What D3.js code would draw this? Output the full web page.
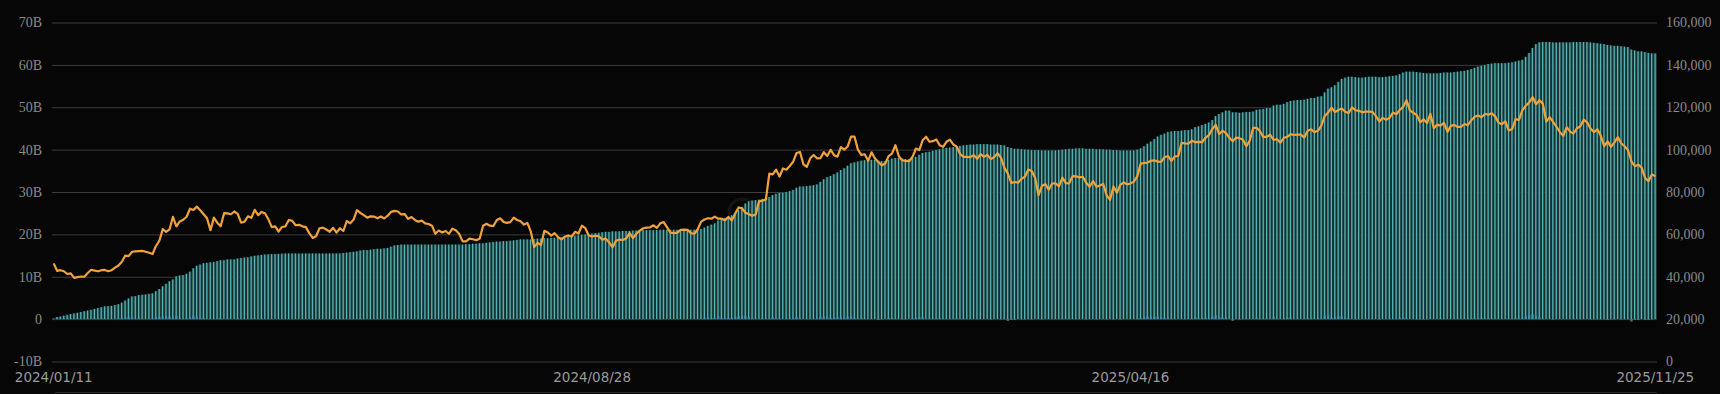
<!DOCTYPE html>
<html>
<head>
<meta charset="utf-8">
<script src="https://cdn.jsdelivr.net/npm/d3@7/dist/d3.min.js"></script>
<style>
  html, body { margin: 0; padding: 0; background: #060606; }
  svg { display: block; }
</style>
</head>
<body>
<svg id="chart" width="1720" height="394"></svg>
<script>
// US market holidays inside the range (no ETF data on these days)
const holidays = [
  "2024-01-15", "2024-02-19", "2024-03-29", "2024-05-27", "2024-06-19", "2024-07-04",
  "2024-09-02", "2024-11-28", "2024-12-25", "2025-01-01", "2025-01-09", "2025-01-20",
  "2025-02-17", "2025-04-18", "2025-05-26", "2025-06-19", "2025-07-04", "2025-09-01"
];

// Cumulative net inflow, billions USD, one value per trading day
const cumFlowB = [
  // 2024-01
  0.11, 0.50, 0.61, 0.82, 1.03, 1.19, 1.34, 1.50, 1.68, 1.85, 2.02, 2.22, 2.42, 2.62,
  // 2024-02
  2.82, 3.02, 3.07, 3.13, 3.33, 3.53, 3.90, 4.39, 4.88, 5.37, 5.42, 5.68, 5.76, 5.81, 5.97, 6.08, 6.60, 7.12, 7.73, 8.34,
  // 2024-03
  8.94, 9.36, 10.1, 10.3, 10.4, 10.7, 11.2, 12.0, 12.6, 12.9, 13.2, 13.3, 13.4, 13.5, 13.7, 13.9, 13.9, 14.1, 14.1, 14.1,
  // 2024-04
  14.3, 14.45, 14.55, 14.6, 14.8, 14.95, 15.05, 15.15, 15.25, 15.3, 15.35, 15.35, 15.4, 15.45, 15.5, 15.5, 15.5, 15.5, 15.5, 15.5, 15.5, 15.5,
  // 2024-05
  15.5, 15.5, 15.5, 15.5, 15.5, 15.5, 15.5, 15.5, 15.5, 15.6, 15.7, 15.8, 15.9, 16.0, 16.2, 16.3, 16.3, 16.4, 16.5, 16.6, 16.6, 16.7,
  // 2024-06
  16.8, 17.1, 17.4, 17.5, 17.6, 17.6, 17.6, 17.6, 17.6, 17.6, 17.6, 17.6, 17.6, 17.6, 17.6, 17.6, 17.6, 17.6, 17.6,
  // 2024-07
  17.6, 17.6, 17.6, 17.6, 17.7, 17.7, 17.8, 17.8, 17.9, 17.9, 18.0, 18.1, 18.2, 18.3, 18.3, 18.4, 18.4, 18.5, 18.6, 18.7, 18.8, 18.8,
  // 2024-08
  18.8, 18.8, 18.9, 19.0, 19.0, 19.1, 19.1, 19.2, 19.2, 19.3, 19.3, 19.4, 19.5, 19.6, 19.7, 19.8, 19.9, 20.0, 20.1, 20.2, 20.3, 20.4,
  // 2024-09
  20.5, 20.6, 20.6, 20.7, 20.7, 20.7, 20.8, 20.8, 20.8, 20.9, 20.9, 20.9, 21.0, 21.0, 21.0, 21.0, 21.0, 21.1, 21.1, 21.1,
  // 2024-10
  21.1, 21.1, 21.1, 21.1, 21.1, 21.1, 21.1, 21.1, 21.2, 21.3, 21.6, 22.0, 22.3, 22.6, 23.3, 23.6, 23.9, 24.2, 24.5, 25.0, 25.7, 26.5, 27.3,
  // 2024-11
  27.8, 28.0, 28.1, 28.2, 28.4, 28.6, 28.8, 29.3, 29.6, 29.8, 29.8, 30.0, 30.2, 30.5, 31.0, 31.3, 31.3, 31.4, 31.5, 31.6,
  // 2024-12
  31.8, 32.4, 33.0, 33.5, 33.8, 34.2, 34.6, 35.2, 35.6, 36.2, 36.8, 37.0, 37.2, 37.4, 37.5, 37.5, 37.6, 37.6, 37.4, 37.3, 37.3,
  // 2025-01
  37.6, 37.9, 38.0, 38.0, 37.9, 37.8, 37.8, 38.0, 38.3, 38.8, 39.2, 39.4, 39.5, 39.7, 39.9, 40.1, 40.3, 40.4, 40.5, 40.6,
  // 2025-02
  40.8, 40.9, 41.0, 41.1, 41.2, 41.2, 41.3, 41.3, 41.3, 41.3, 41.2, 41.2, 41.2, 41.1, 41.0, 40.6, 40.4, 40.2, 40.2,
  // 2025-03
  40.1, 40.0, 40.0, 39.9, 39.9, 39.9, 39.8, 39.8, 39.8, 39.8, 39.8, 39.9, 40.0, 40.1, 40.2, 40.2, 40.3, 40.3, 40.3, 40.2, 40.2,
  // 2025-04
  40.2, 40.1, 40.1, 40.1, 40.0, 40.0, 39.9, 39.9, 39.8, 39.8, 39.8, 39.8, 39.8, 40.0, 40.3, 40.8, 41.4, 41.9, 42.5, 43.1, 43.5,
  // 2025-05
  43.8, 44.2, 44.3, 44.4, 44.4, 44.5, 44.6, 44.6, 44.8, 45.3, 45.5, 45.8, 46.1, 46.4, 47.0, 47.9, 48.4, 48.8, 49.2, 49.2, 48.8,
  // 2025-06
  48.8, 48.7, 48.8, 48.9, 48.9, 49.0, 49.4, 49.5, 49.6, 49.8, 49.8, 50.4, 50.6, 50.6, 50.8, 51.2, 51.5, 51.6, 51.7, 51.7,
  // 2025-07
  51.8, 52.0, 52.2, 52.2, 52.5, 52.6, 53.5, 54.4, 54.7, 55.2, 56.0, 56.7, 57.0, 57.2, 57.2, 57.1, 57.0, 57.0, 57.1, 57.2, 57.2, 57.2,
  // 2025-08
  57.1, 57.1, 57.2, 57.3, 57.4, 57.5, 57.8, 58.2, 58.4, 58.4, 58.4, 58.3, 58.2, 58.1, 58.0, 58.0, 58.0, 58.0, 58.1, 58.2, 58.2,
  // 2025-09
  58.2, 58.3, 58.4, 58.5, 58.6, 58.8, 59.0, 59.3, 59.6, 59.8, 60.0, 60.2, 60.3, 60.4, 60.4, 60.4, 60.4, 60.5, 60.6, 60.8, 61.0,
  // 2025-10
  61.2, 61.9, 62.8, 64.0, 64.9, 65.3, 65.4, 65.4, 65.4, 65.3, 65.3, 65.3, 65.3, 65.3, 65.3, 65.4, 65.4, 65.4, 65.4, 65.4, 65.3, 65.2, 65.1,
  // 2025-11
  65.0, 64.9, 64.7, 64.6, 64.5, 64.5, 64.4, 64.3, 64.2, 63.6, 63.4, 63.2, 63.2, 63.0, 62.8, 62.7, 62.7
];

// BTC price, thousand USD, same trading days
const btcPriceK = [
  // 2024-01
  46.3, 42.8, 43.1, 42.6, 41.3, 41.6, 39.5, 39.8, 40.1, 40.0, 41.8, 43.3, 42.9, 42.6,
  // 2024-02
  43.1, 43.2, 42.6, 43.1, 44.3, 45.3, 47.1, 50.0, 49.7, 51.8, 52.0, 52.1, 52.2, 51.8, 51.3, 50.7, 54.5, 57.0, 62.5, 61.2,
  // 2024-03
  62.4, 68.3, 63.8, 66.1, 66.9, 68.3, 72.1, 71.5, 73.1, 71.4, 69.5, 67.6, 62.0, 67.9, 65.5, 63.8, 70.0, 69.9, 69.5, 70.8,
  // 2024-04
  69.7, 65.5, 66.0, 68.5, 67.8, 71.6, 69.1, 70.6, 70.0, 67.1, 63.4, 63.8, 61.3, 63.5, 63.8, 66.8, 66.4, 64.3, 64.5, 63.8, 63.4, 60.6,
  // 2024-05
  58.3, 59.1, 62.9, 63.2, 62.3, 61.2, 63.1, 60.8, 62.9, 61.6, 66.3, 65.2, 67.0, 71.4, 70.1, 69.1, 67.9, 68.5, 68.4, 67.6, 68.4, 67.5,
  // 2024-06
  68.8, 70.6, 71.1, 70.8, 69.4, 69.6, 67.3, 68.2, 66.8, 66.0, 66.5, 65.2, 64.9, 64.1, 60.3, 61.8, 60.9, 61.6, 60.3,
  // 2024-07
  62.7, 62.0, 60.2, 56.7, 56.7, 58.0, 57.7, 57.3, 57.9, 64.1, 65.0, 64.1, 63.9, 66.7, 67.6, 65.9, 65.4, 65.8, 67.9, 66.8, 66.2, 64.6,
  // 2024-08
  65.4, 61.4, 54.0, 56.0, 55.0, 61.7, 60.9, 59.4, 60.6, 58.7, 57.6, 58.9, 59.5, 59.0, 61.2, 60.4, 64.1, 62.9, 59.5, 59.0, 59.4, 59.1,
  // 2024-09
  57.5, 58.0, 56.2, 53.9, 57.0, 57.6, 57.3, 58.1, 60.6, 58.2, 60.3, 61.8, 62.9, 63.2, 63.3, 64.3, 63.1, 65.2, 65.8, 63.3,
  // 2024-10
  60.8, 60.6, 60.8, 62.1, 62.2, 62.1, 60.6, 60.3, 62.4, 66.0, 67.0, 67.6, 67.4, 68.4, 67.4, 67.4, 66.7, 68.2, 66.6, 69.9, 72.7, 72.3, 70.2,
  // 2024-11
  69.5, 68.8, 69.4, 75.6, 75.9, 76.5, 88.7, 88.3, 90.5, 87.3, 91.1, 90.5, 92.3, 94.3, 98.4, 98.9, 93.1, 91.9, 95.9, 97.5,
  // 2024-12
  95.9, 96.0, 98.8, 97.0, 99.9, 97.4, 96.7, 101.2, 100.0, 101.5, 106.1, 106.1, 100.0, 97.5, 97.8, 94.7, 98.7, 95.8, 94.2, 92.6, 93.4,
  // 2025-01
  96.9, 98.1, 102.1, 96.9, 95.0, 94.7, 94.5, 96.5, 100.5, 99.8, 104.4, 106.1, 103.7, 104.0, 104.8, 102.1, 101.3, 103.7, 104.7, 102.4,
  // 2025-02
  101.4, 97.9, 96.6, 96.6, 96.5, 97.4, 95.7, 97.9, 96.6, 97.5, 95.5, 96.5, 98.3, 96.1, 91.4, 88.7, 84.3, 84.7, 84.4,
  // 2025-03
  86.2, 87.2, 90.6, 89.9, 86.7, 78.5, 82.9, 83.7, 81.1, 84.0, 84.1, 82.7, 86.8, 84.2, 84.1, 87.5, 87.4, 86.9, 87.2, 84.4, 82.5,
  // 2025-04
  85.2, 82.5, 83.1, 83.8, 78.4, 76.3, 82.6, 79.6, 83.4, 84.5, 83.6, 84.0, 84.9, 87.5, 93.4, 93.7, 93.9, 94.7, 95.0, 94.3, 94.2,
  // 2025-05
  96.5, 96.9, 94.7, 96.8, 97.0, 103.2, 102.9, 102.8, 104.2, 103.5, 103.7, 103.5, 105.6, 106.8, 109.7, 111.7, 107.3, 108.9, 107.8, 105.6, 103.9,
  // 2025-06
  105.7, 105.4, 104.7, 101.6, 104.3, 110.3, 110.3, 108.7, 105.9, 106.1, 107.0, 104.6, 104.9, 103.3, 105.6, 106.0, 107.3, 106.9, 107.1, 107.1,
  // 2025-07
  105.7, 108.9, 109.6, 108.3, 108.9, 111.3, 115.9, 117.5, 119.8, 117.7, 118.7, 119.4, 117.9, 117.3, 119.9, 118.6, 118.3, 117.6, 118.0, 117.9, 117.8, 115.8,
  // 2025-08
  113.3, 115.0, 114.1, 115.0, 117.5, 116.7, 118.7, 120.2, 123.3, 118.4, 117.4, 116.3, 112.9, 114.3, 112.5, 116.9, 110.1, 111.8, 111.3, 112.6, 108.4,
  // 2025-09
  111.2, 111.7, 110.7, 110.7, 112.1, 111.5, 113.9, 115.5, 116.1, 115.3, 116.8, 116.5, 117.1, 115.7, 112.7, 112.0, 113.3, 109.0, 109.7, 114.4, 114.0,
  // 2025-10
  118.6, 120.7, 122.3, 124.8, 121.4, 123.3, 121.7, 113.2, 115.3, 113.1, 110.8, 108.2, 106.5, 110.6, 108.5, 107.6, 110.1, 111.0, 114.1, 112.9, 110.0, 108.3, 109.6,
  // 2025-11
  106.5, 101.6, 103.9, 101.3, 103.4, 105.9, 103.0, 101.6, 99.7, 94.4, 92.2, 92.9, 91.5, 86.6, 85.1, 88.3, 87.4
];

const leftTicks = [-10, 0, 10, 20, 30, 40, 50, 60, 70];
const rightTicks = [0, 20000, 40000, 60000, 80000, 100000, 120000, 140000, 160000];
const xLabels = ["2024/01/11", "2024/08/28", "2025/04/16", "2025/11/25"];

const W = 1720, H = 394;
const M = { left: 52, right: 1657, top: 22.5, bottom: 361.5 };
const BAR_BASE = "#1a3a3c", BAR_LINE = "#58b2b2", DAILY = "#3f93b8", PRICE = "#f2a23a";

// trading-day categories
const fmtDay = d3.utcFormat("%Y-%m-%d");
const dates = d3.utcDays(new Date(Date.UTC(2024, 0, 11)), new Date(Date.UTC(2025, 10, 26)))
  .filter(d => d.getUTCDay() % 6 !== 0 && !holidays.includes(fmtDay(d)));
if (dates.length !== cumFlowB.length || dates.length !== btcPriceK.length) {
  console.warn("length mismatch", dates.length, cumFlowB.length, btcPriceK.length);
}
const n = Math.min(dates.length, cumFlowB.length, btcPriceK.length);
const rows = d3.range(n).map(i => ({
  i,
  date: dates[i],
  cum: cumFlowB[i],
  daily: i === 0 ? cumFlowB[0] : cumFlowB[i] - cumFlowB[i - 1],
  price: btcPriceK[i] * 1000
}));

const x = d3.scaleBand().domain(rows.map(d => d.i)).range([M.left, M.right]).padding(0);
const bw = x.bandwidth();
const yL = d3.scaleLinear().domain([-10, 70]).range([M.bottom, M.top]);
const yR = d3.scaleLinear().domain([0, 160000]).range([M.bottom, M.top]);

const svg = d3.select("#chart");
svg.append("rect").attr("width", W).attr("height", H).attr("fill", "#060606");

// grid + left labels
const gL = svg.append("g")
  .attr("transform", `translate(${M.left},0)`)
  .call(d3.axisLeft(yL).tickValues(leftTicks).tickSize(-(M.right - M.left)).tickPadding(10)
    .tickFormat(v => v === 0 ? "0" : v + "B"));
gL.select(".domain").remove();
gL.selectAll("line").attr("stroke", "#3d3d3d").attr("stroke-width", 1);
gL.selectAll("text").attr("fill", "#8a8a8a").attr("font-family", "'Liberation Serif', 'DejaVu Serif', serif")
  .attr("font-size", 14);

// right labels
const gR = svg.append("g")
  .attr("transform", `translate(${M.right},0)`)
  .call(d3.axisRight(yR).tickValues(rightTicks).tickSize(0).tickPadding(9).tickFormat(d3.format(",")));
gR.select(".domain").remove();
gR.selectAll("text").attr("fill", "#8a8a8a").attr("font-family", "'Liberation Serif', 'DejaVu Serif', serif")
  .attr("font-size", 14);

// watermark
const wm = svg.append("g").attr("opacity", 0.06);
wm.append("circle").attr("cx", 742).attr("cy", 212).attr("r", 13).attr("fill", "none")
  .attr("stroke", "#cfe").attr("stroke-width", 3);
wm.append("text").attr("x", 764).attr("y", 223).attr("fill", "#cfe")
  .attr("font-family", "Inter, 'DejaVu Sans', sans-serif").attr("font-size", 30).attr("font-weight", 700)
  .text("SoSoValue");

// cumulative bars: dark body with a bright stripe
const bars = svg.append("g");
bars.selectAll("rect.base").data(rows).join("rect")
  .attr("class", "base")
  .attr("x", d => x(d.i))
  .attr("width", bw)
  .attr("y", d => yL(Math.max(0, d.cum)))
  .attr("height", d => Math.abs(yL(d.cum) - yL(0)))
  .attr("fill", BAR_BASE);
bars.selectAll("rect.hi").data(rows).join("rect")
  .attr("class", "hi")
  .attr("x", d => x(d.i) + bw * 0.25)
  .attr("width", bw * 0.38)
  .attr("y", d => yL(Math.max(0, d.cum)))
  .attr("height", d => Math.abs(yL(d.cum) - yL(0)))
  .attr("fill", BAR_LINE);

// daily net flow bars (tiny at this scale)
svg.append("g").selectAll("rect").data(rows).join("rect")
  .attr("x", d => x(d.i) + bw * 0.15)
  .attr("width", bw * 0.7)
  .attr("y", d => yL(Math.max(0, d.daily)))
  .attr("height", d => Math.abs(yL(d.daily) - yL(0)))
  .attr("fill", DAILY)
  .attr("opacity", 0.8);

// BTC price line
const line = d3.line().x(d => x(d.i) + bw / 2).y(d => yR(d.price));
svg.append("path").datum(rows)
  .attr("d", line)
  .attr("fill", "none")
  .attr("stroke", PRICE)
  .attr("stroke-width", 2.2)
  .attr("stroke-linejoin", "round");

// bottom date labels at matching trading days
const fmtLabel = d3.utcFormat("%Y/%m/%d");
const labelIdx = xLabels.map(l => rows.findIndex(d => fmtLabel(d.date) === l)).filter(i => i >= 0);
const gX = svg.append("g")
  .attr("transform", "translate(0,370)")
  .call(d3.axisBottom(x).tickValues(labelIdx).tickSize(0).tickPadding(2)
    .tickFormat(i => fmtLabel(rows[i].date)));
gX.select(".domain").remove();
gX.selectAll("text").attr("fill", "#9a9a9a").attr("font-family", "'DejaVu Sans', sans-serif")
  .attr("font-size", 13.5);

// faint slider edge at very bottom
svg.append("line").attr("x1", 55).attr("x2", M.right).attr("y1", 392.5).attr("y2", 392.5)
  .attr("stroke", "#2a2a2a").attr("stroke-width", 1);
</script>
</body>
</html>
